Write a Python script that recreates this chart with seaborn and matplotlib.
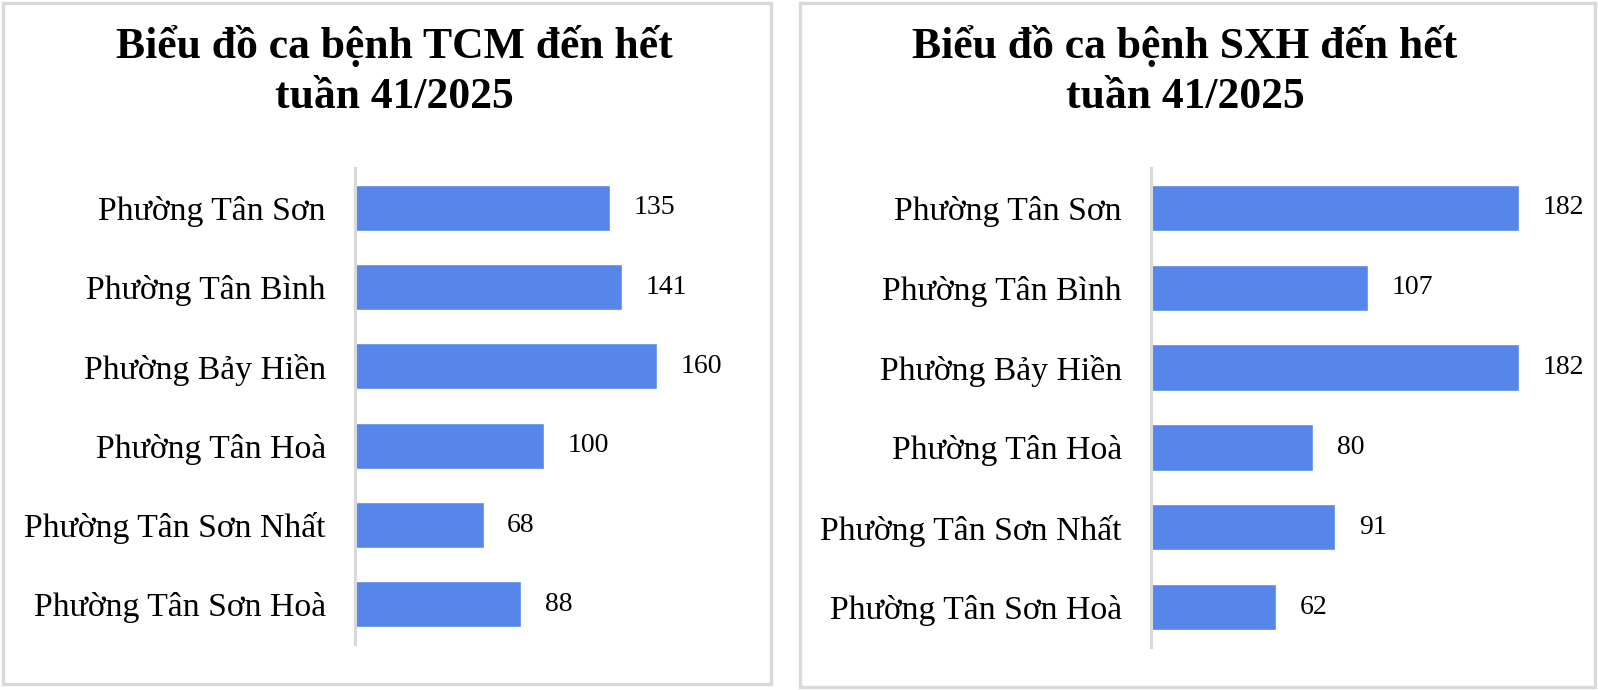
import matplotlib
matplotlib.use("Agg")
import matplotlib.pyplot as plt
import seaborn as sns
import pandas as pd
from matplotlib.patches import Rectangle

# data
wards = ["Phường Tân Sơn", "Phường Tân Bình", "Phường Bảy Hiền",
         "Phường Tân Hoà", "Phường Tân Sơn Nhất", "Phường Tân Sơn Hoà"]
tcm_cases = [135, 141, 160, 100, 68, 88]
sxh_cases = [182, 107, 182, 80, 91, 62]
title_lines = [["Biểu đồ ca bệnh TCM đến hết", "tuần 41/2025"],
               ["Biểu đồ ca bệnh SXH đến hết", "tuần 41/2025"]]

sns.set_theme(style="white")
plt.rcParams['font.family'] = ['Liberation Serif', 'DejaVu Serif']
plt.rcParams['text.color'] = 'black'
plt.rcParams['ytick.color'] = 'black'

W, H = 1598, 690
fig = plt.figure(figsize=(W / 100, H / 100), dpi=100)
bar_color = "#5686EA"
grey = "#D9D9D9"

# panel boxes (pixel coords: left, top, right, bottom)
panels = [(3, 3, 771, 684), (800, 3, 1595, 687)]
# axes boxes in pixels
axes_px = [(355, 168, 752, 644), (1151, 168, 1576, 647)]
title_x = [394, 1185]
title_base = [58, 108]

for i, (vals, lines) in enumerate(zip([tcm_cases, sxh_cases], title_lines)):
    l, t, r, b = panels[i]
    fig.patches.append(Rectangle((l / W, 1 - b / H), (r - l) / W, (b - t) / H,
                                 transform=fig.transFigure, fill=False,
                                 edgecolor=grey, linewidth=2.4))
    al, at, ar, ab = axes_px[i]
    ax = fig.add_axes([al / W, 1 - ab / H, (ar - al) / W, (ab - at) / H])
    df = pd.DataFrame({"ward": wards, "cases": vals})
    sns.barplot(data=df, x="cases", y="ward", color=bar_color, saturation=1,
                width=0.58, ax=ax)
    ax.set_xlim(0, 210)
    ax.set_ylim(5.5, -0.5)
    ax.bar_label(ax.containers[0], padding=17, fontsize=20, color="black")
    ax.set_xlabel("")
    ax.set_ylabel("")
    ax.set_xticks([])
    ax.tick_params(axis="y", length=0, pad=21, labelsize=24.3)
    for s in ["top", "right", "bottom"]:
        ax.spines[s].set_visible(False)
    ax.spines["left"].set_color(grey)
    ax.spines["left"].set_linewidth(2.2)
    ax.set_facecolor("none")
    for line, yb in zip(lines, title_base):
        fig.text(title_x[i] / W, 1 - yb / H, line, ha="center", va="baseline",
                 fontsize=31.4, fontweight="bold")

fig.savefig("out.png", dpi=100, facecolor="white")
